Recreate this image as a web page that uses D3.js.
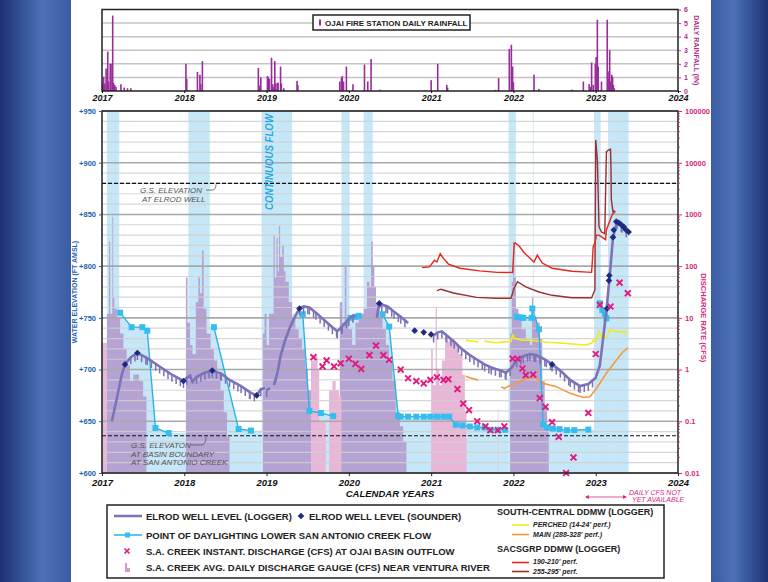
<!DOCTYPE html>
<html>
<head>
<meta charset="utf-8">
<script src="https://cdnjs.cloudflare.com/ajax/libs/d3/7.8.5/d3.min.js"></script>
<style>
  body { margin: 0; background: #fff; }
  svg { display: block; font-family: "Liberation Sans", Arial, sans-serif; }
</style>
</head>
<body>
<div id="chart"></div>
<script>
// ---- data (decimal years) ----
const years = [2017, 2018, 2019, 2020, 2021, 2022, 2023, 2024];
const elevTicks = [600, 650, 700, 750, 800, 850, 900, 950];
const cfsTicks = [0.01, 0.1, 1, 10, 100, 1000, 10000, 100000];
const rainTicks = [0, 1, 2, 3, 4, 5, 6];

// Ojai fire station daily rainfall (in)
const rainfall = [
  [2017.01,0.55],[2017.02,1.05],[2017.035,0.55],[2017.05,1.65],[2017.07,2.9],[2017.08,0.7],[2017.10,2.0],[2017.11,2.0],
  [2017.13,5.55],[2017.14,0.6],[2017.155,0.45],[2017.17,0.3],[2017.23,0.5],[2017.27,0.25],[2017.31,0.2],[2017.35,0.2],
  [2018.02,2.0],[2018.03,0.9],[2018.16,1.4],[2018.19,1.2],[2018.20,0.5],[2018.22,2.2],
  [2018.90,1.7],[2018.91,0.4],[2018.93,1.0],[2019.01,1.1],[2019.02,1.0],[2019.035,0.9],[2019.06,2.45],[2019.075,0.5],
  [2019.09,0.3],[2019.10,2.2],[2019.11,0.55],[2019.13,0.6],[2019.14,0.6],[2019.17,1.8],[2019.18,0.55],[2019.21,0.2],
  [2019.37,0.75],[2019.38,0.45],
  [2019.89,0.7],[2019.91,0.95],[2019.92,1.1],[2019.935,0.7],[2019.97,1.8],[2020.05,0.5],[2020.19,1.95],[2020.23,0.7],
  [2020.27,2.35],[2020.38,0.1],
  [2021.0,0.8],[2021.08,2.0],[2021.19,0.45],[2021.20,0.25],
  [2021.78,0.08],[2021.82,0.95],[2021.95,3.1],[2021.975,3.4],[2021.99,1.8],[2022.0,0.65],[2022.25,1.2],[2022.31,0.15],
  [2022.71,0.1],[2022.85,0.7],[2022.92,0.5],[2022.935,0.3],[2022.95,2.1],[2022.97,0.45],[2022.995,2.0],[2023.005,2.5],
  [2023.02,5.25],[2023.03,1.8],[2023.07,0.7],[2023.14,5.25],[2023.15,1.45],[2023.16,0.9],[2023.17,3.0],[2023.18,0.7],
  [2023.195,1.2],[2023.205,1.05],[2023.215,0.45],[2023.225,0.2]
];

// continuous flow periods
const flowBands = [
  [2017.06,2017.21],[2018.05,2018.31],[2018.94,2019.31],[2019.91,2020.01],[2020.18,2020.29],
  [2021.94,2022.03],[2022.235,2022.245],[2022.98,2023.06],[2023.15,2023.40]
];

// point of daylighting lower San Antonio Creek flow (ft), null = break
const daylighting = [
  [2017.22,755],[2017.36,741],[2017.49,741],[2017.55,737.5],[2017.65,643.5],[2017.81,638.6], null,
  [2018.36,741],[2018.66,642.5],[2018.81,641], null,
  [2019.44,753.5],[2019.52,660],[2019.66,658],[2019.81,655], null,
  [2020.02,750],[2020.08,751],[2020.12,752], null,
  [2020.41,753.5],[2020.49,741.5],[2020.60,655],[2020.63,654.5],[2020.72,654.5],[2020.82,654.5],[2020.91,654.5],
  [2020.99,654.5],[2021.07,654.5],[2021.15,654.5],[2021.22,654.5],[2021.30,646.7],[2021.38,646],[2021.47,645],
  [2021.56,644],[2021.65,644],[2021.72,641.8],[2021.81,641.8],[2021.90,641.8], null,
  [2022.04,751],[2022.08,750.5],[2022.12,750],[2022.22,750],[2022.23,759],[2022.31,739],[2022.36,647],[2022.41,644],
  [2022.48,643],[2022.56,642.4],[2022.65,641.4],[2022.74,641.4],[2022.91,642], null,
  [2023.05,764],[2023.08,757.6],[2023.11,754],[2023.13,749.6]
];

// Elrod well level, logger (ft)
const elrodLogger = [
  [2017.12,650],[2017.18,672],[2017.24,695],[2017.28,705],[2017.35,712],[2017.43,716],[2017.55,711],[2017.70,703],
  [2017.85,695],[2017.99,689],[2018.03,692],[2018.07,694],[2018.10,688],[2018.15,693],[2018.25,697],[2018.34,699],
  [2018.45,696],[2018.55,690],[2018.69,684],[2018.80,678],[2018.88,675],[2018.93,681],[2018.98,682], null,
  [2019.00,680],[2019.04,682], null,
  [2019.09,685],[2019.13,696],[2019.17,713],[2019.22,727],[2019.28,740],[2019.35,752],[2019.40,759],[2019.45,761],
  [2019.52,760],[2019.60,755],[2019.70,748],[2019.80,741],[2019.86,737],[2019.92,742],[2020.00,749],[2020.05,752],
  [2020.08,751], null,
  [2020.34,750],[2020.36,760],[2020.40,763],[2020.47,761],[2020.55,756],[2020.63,751],[2020.72,745], null,
  [2021.03,733],[2021.08,736],[2021.13,737],[2021.19,733],[2021.28,727],[2021.37,720],[2021.47,714],[2021.57,709],
  [2021.65,705],[2021.73,702],[2021.85,699],[2021.91,697],[2021.98,702],[2022.04,709],[2022.12,713],[2022.20,715],
  [2022.27,714],[2022.33,712],[2022.40,709],[2022.47,705],[2022.57,699],[2022.69,690],[2022.81,684],[2022.91,686],
  [2023.00,692],[2023.05,704],[2023.10,737],[2023.13,757],[2023.17,790],[2023.21,828],[2023.26,843],[2023.32,839],
  [2023.39,833]
];

// Elrod well level, sounder (ft)
const elrodSounder = [
  [2017.28,705],[2017.43,716],[2017.99,689],[2018.34,699],[2018.88,675],[2019.40,759],[2020.37,764],
  [2020.80,737.6],[2020.91,736],[2021.00,734],[2022.47,705],[2023.14,759],[2023.16,786],[2023.165,791],
  [2023.21,828],[2023.22,835],[2023.25,843],[2023.28,842],[2023.31,840],[2023.34,838],[2023.37,835],[2023.40,833]
];

// S.A. Creek instantaneous discharge at Ojai basin outflow (cfs)
const instDischarge = [
  [2019.57,1.74],[2019.68,1.15],[2019.73,1.5],[2019.82,1.15],[2019.90,1.32],[2020.00,1.62],[2020.08,1.29],[2020.15,1.03],
  [2020.25,1.9],[2020.33,2.9],[2020.42,1.9],[2020.49,1.55],[2020.63,1.0],[2020.72,0.68],[2020.82,0.6],[2020.91,0.54],
  [2020.99,0.63],[2021.07,0.71],[2021.15,0.63],[2021.21,0.65],[2021.32,0.42],[2021.39,0.22],[2021.46,0.165],[2021.56,0.1],
  [2021.66,0.08],[2021.72,0.067],[2021.81,0.067],[2021.89,0.08],[2021.99,1.62],[2022.05,1.62],[2022.11,1.05],[2022.15,0.78],
  [2022.24,0.8],[2022.32,0.28],[2022.39,0.19],[2022.47,0.096],[2022.55,0.05],[2022.64,0.01],[2022.73,0.02],[2022.91,0.145],
  [2023.00,2.0],[2023.05,17.8],[2023.18,16.6],[2023.29,48],[2023.39,30]
];

// S.A. Creek avg daily discharge gauge near Ventura River (cfs), step values; 0 = no flow
const gaugeApproved = [
  [2017.06,12],[2017.085,300],[2017.10,12],[2017.115,12],[2017.125,900],[2017.135,25],[2017.15,15],[2017.18,10],
  [2017.22,5],[2017.26,2.5],[2017.30,1.2],[2017.34,0.6],[2017.38,0.8],[2017.45,0.6],[2017.50,0.3],[2017.54,0],
  [2018.02,60],[2018.04,8],[2018.07,3],[2018.10,2],[2018.14,20],[2018.17,60],[2018.19,30],[2018.215,200],[2018.235,15],
  [2018.27,5],[2018.32,2.5],[2018.36,1.5],[2018.40,0.8],[2018.44,0.4],[2018.48,0.15],[2018.52,0.05],[2018.55,0],
  [2018.955,5],[2018.975,12],[2019.00,3],[2019.03,12],[2019.085,400],[2019.10,60],[2019.12,350],[2019.135,80],
  [2019.15,600],[2019.165,150],[2019.19,250],[2019.21,80],[2019.23,50],[2019.27,20],[2019.31,10],[2019.35,6],
  [2019.39,4],[2019.43,2.5],[2019.47,1],[2019.50,0.4],[2019.54,0],
  [2019.89,20],[2019.92,8],[2019.95,100],[2019.97,10],[2020.00,6],[2020.04,3],[2020.08,8],[2020.12,12],[2020.18,15],
  [2020.22,50],[2020.25,40],[2020.27,300],[2020.29,100],[2020.31,40],[2020.33,20],[2020.37,10],[2020.41,6],[2020.45,3],
  [2020.49,1.5],[2020.53,0.6],[2020.57,0.15],[2020.62,0.08],[2020.66,0.04],[2020.70,0],
  [2021.96,5],[2021.98,50],[2021.995,300],[2022.01,60],[2022.03,15],[2022.06,10],[2022.10,6],[2022.15,4],[2022.20,3],
  [2022.225,25],[2022.24,10],[2022.28,8],[2022.32,4],[2022.35,0.6],[2022.38,0.2],[2022.41,0.08],[2022.43,0]
];
const gaugeProvisional = [
  [2016.995,3.3],[2017.06,0],
  [2019.54,1.5],[2019.58,1.8],[2019.62,1.0],[2019.64,0.1],[2019.72,0],[2019.76,0.4],[2019.80,0.6],[2019.84,0.4],
  [2019.88,0.3],[2019.91,0],
  [2021.00,2.5],[2021.02,0.5],[2021.055,16],[2021.07,1],[2021.10,0.5],[2021.13,1.5],[2021.17,3.5],[2021.22,4],
  [2021.28,3],[2021.33,2],[2021.38,0.8],[2021.41,0.15],[2021.43,0],
  [2021.81,0.17],[2021.816,0]
];

// South-central DDMW loggers (ft)
const perched = [
  [2021.42,728.4],[2021.57,726.8], null,
  [2021.65,727.5],[2021.79,726],[2021.89,726.8],[2021.97,727],[2021.99,733.3],[2022.02,730],[2022.10,728.4],
  [2022.20,728.6],[2022.40,726.4],[2022.60,725.4],[2022.87,723.8],[2022.95,725.4],[2022.97,728],[2023.00,727],
  [2023.04,736.7],[2023.07,731],[2023.13,731],[2023.17,738.3],[2023.25,736.7],[2023.39,735.7]
];
const mainAq = [
  [2021.42,693.5],[2021.47,692],[2021.57,690], null,
  [2021.85,683.3],[2021.89,681.7],[2021.94,684],[2022.02,686],[2022.14,690.8],[2022.26,692.5],[2022.36,686.7],
  [2022.52,683.5],[2022.69,677],[2022.85,673],[2022.93,673.8],[2023.01,682],[2023.13,696.4],[2023.25,709],
  [2023.33,717],[2023.39,721]
];
// SACSGRP DDMW loggers (ft)
const sacs190 = [
  [2020.89,798.6],[2020.98,799.3],[2021.04,805.7],[2021.07,804],[2021.11,812],[2021.15,807.5],[2021.21,802],
  [2021.35,798],[2021.59,795.4],[2021.80,794],[2021.99,793.9],[2022.01,822],[2022.02,822.5],[2022.07,819.5],
  [2022.13,813],[2022.25,804],[2022.29,810.7],[2022.35,803],[2022.47,798],[2022.71,795],[2022.95,794],[2022.97,819],
  [2022.99,822.5],[2023.01,830],[2023.04,830],[2023.12,825.6],[2023.13,835],[2023.20,849.8],[2023.24,853]
];
const sacs255 = [
  [2021.07,776.4],[2021.12,777.7],[2021.27,774],[2021.55,769.8],[2021.79,769],[2021.97,769],[2022.01,779],
  [2022.05,785],[2022.15,780],[2022.31,775],[2022.47,771.8],[2022.71,769.4],[2022.95,769.4],[2022.99,777],
  [2023.00,922],[2023.02,902.6],[2023.04,838],[2023.07,833],[2023.11,831.4],[2023.13,910.6],[2023.15,912],
  [2023.18,913],[2023.185,896],[2023.19,864],[2023.21,852.6],[2023.23,853.6]
];

const gsElrod = 880, gsBasin = 636;

// ---- layout ----
const W = 768, H = 582;
const left = 102, right = 678;
const svg = d3.select("#chart").append("svg").attr("width", W).attr("height", H);

// side frame gradients
const defs = svg.append("defs");
const gl = defs.append("linearGradient").attr("id", "gl");
gl.append("stop").attr("offset", "0%").attr("stop-color", "#1d3272");
gl.append("stop").attr("offset", "60%").attr("stop-color", "#4c70b6");
gl.append("stop").attr("offset", "100%").attr("stop-color", "#3a5ca3");
const gr = defs.append("linearGradient").attr("id", "gr");
gr.append("stop").attr("offset", "0%").attr("stop-color", "#3a5ca3");
gr.append("stop").attr("offset", "40%").attr("stop-color", "#4c70b6");
gr.append("stop").attr("offset", "100%").attr("stop-color", "#1d3272");
svg.append("rect").attr("x", 0).attr("y", 0).attr("width", 71).attr("height", H).attr("fill", "url(#gl)");
svg.append("rect").attr("x", 711).attr("y", 0).attr("width", W - 711).attr("height", H).attr("fill", "url(#gr)");

const x = d3.scaleLinear().domain([2017, 2024]).range([left, right]);

// ================= rainfall panel =================
const rTop = 9.5, rBot = 91;
const yRain = d3.scaleLinear().domain([0, 6]).range([rBot, rTop]);
const rainG = svg.append("g");

rainG.selectAll(".rg").data(rainTicks.slice(1, -1)).join("line")
  .attr("x1", left).attr("x2", right)
  .attr("y1", d => yRain(d)).attr("y2", d => yRain(d))
  .attr("stroke", "#c4c4c4").attr("stroke-width", 1.5);

rainG.selectAll(".rain").data(rainfall).join("rect")
  .attr("x", d => x(d[0]) - 0.8).attr("width", 1.6)
  .attr("y", d => yRain(d[1])).attr("height", d => yRain(0) - yRain(d[1]))
  .attr("fill", "#9a2c9c");

rainG.append("rect").attr("x", left).attr("y", rTop).attr("width", right - left).attr("height", rBot - rTop)
  .attr("fill", "none").attr("stroke", "#222").attr("stroke-width", 1.5);

const rAxis = rainG.append("g").attr("transform", `translate(${right},0)`)
  .call(d3.axisRight(yRain).tickValues(rainTicks).tickSize(3).tickFormat(d3.format("d")));
rAxis.select(".domain").remove();
rAxis.selectAll("line").attr("stroke", "#b0308a");
rAxis.selectAll("text").attr("fill", "#b0308a").attr("font-size", 7).attr("font-weight", "bold");
rainG.append("text").attr("transform", `translate(694,${(rTop + rBot) / 2}) rotate(90)`)
  .attr("text-anchor", "middle").attr("font-size", 7).attr("font-weight", "bold").attr("fill", "#b0308a")
  .text("DAILY RAINFALL (IN)");

const rx = rainG.append("g").attr("transform", `translate(0,${rBot})`)
  .call(d3.axisBottom(x).tickValues(years).tickSize(2).tickFormat(d3.format("d")));
rx.select(".domain").remove();
rx.selectAll("text").attr("font-size", 9).attr("font-weight", "bold").attr("font-style", "italic").attr("fill", "#111").attr("dy", "0.6em");

// rainfall legend
rainG.append("rect").attr("x", 313).attr("y", 15).attr("width", 157).attr("height", 15)
  .attr("fill", "#fff").attr("stroke", "#222").attr("stroke-width", 1.5);
rainG.append("rect").attr("x", 319).attr("y", 19.5).attr("width", 2).attr("height", 6).attr("fill", "#9a2c9c");
rainG.append("text").attr("x", 325).attr("y", 25.5).attr("font-size", 8).attr("font-weight", "bold").attr("fill", "#222")
  .text("OJAI FIRE STATION DAILY RAINFALL");

// ================= main panel =================
const mTop = 111, mBot = 473;
const yFt = d3.scaleLinear().domain([600, 950]).range([mBot, mTop]);
const yCfs = d3.scaleLog().domain([0.01, 100000]).range([mBot, mTop]);
const g = svg.append("g");
const blue = "#c6e7f7";

// continuous flow bands
g.selectAll(".band").data(flowBands).join("rect")
  .attr("x", d => x(d[0])).attr("width", d => x(d[1]) - x(d[0]))
  .attr("y", mTop).attr("height", mBot - mTop).attr("fill", blue);

// flow fill under daylighting point, carried to adjacent bands
const dayGroups = [];
let cur = [];
daylighting.forEach(p => { if (p) cur.push(p); else { dayGroups.push(cur); cur = []; } });
if (cur.length) dayGroups.push(cur);
const bandStarts = flowBands.map(b => b[0]), bandEnds = flowBands.map(b => b[1]);
const fillArea = d3.area().x(d => x(d[0])).y0(mBot).y1(d => yFt(d[1]));
dayGroups.forEach(grp => {
  const first = grp[0], last = grp[grp.length - 1];
  const prevEnd = d3.max(bandEnds.filter(e => e < first[0]));
  const nextStart = d3.min(bandStarts.filter(s => s > last[0]));
  const pts = [];
  if (prevEnd !== undefined && first[0] - prevEnd < 0.2) pts.push([prevEnd, first[1]]);
  pts.push(...grp);
  if (nextStart !== undefined) pts.push([nextStart, last[1]]);
  g.append("path").datum(pts).attr("d", fillArea).attr("fill", blue);
});

// avg daily discharge gauge (step areas)
function stepSegments(arr) {
  const segs = []; let s = [];
  arr.forEach((p, i) => {
    if (p[1] > 0) {
      const nx = i + 1 < arr.length ? arr[i + 1][0] : p[0] + 0.01;
      s.push([p[0], p[1]], [nx, p[1]]);
    } else if (s.length) { segs.push(s); s = []; }
  });
  if (s.length) segs.push(s);
  return segs;
}
const gaugeArea = d3.area().x(d => x(d[0])).y0(mBot).y1(d => yCfs(Math.max(d[1], 0.01)));
g.selectAll(".ga").data(stepSegments(gaugeApproved)).join("path")
  .attr("d", gaugeArea).attr("fill", "#b5a3d3");
g.selectAll(".gp").data(stepSegments(gaugeProvisional)).join("path")
  .attr("d", gaugeArea).attr("fill", "#e8b7d8");

// grid
const minor = d3.range(600, 951, 10).filter(v => v % 50 !== 0);
g.selectAll(".mg").data(minor).join("line")
  .attr("x1", left).attr("x2", right).attr("y1", d => yFt(d)).attr("y2", d => yFt(d))
  .attr("stroke", "#cfcfcf").attr("stroke-opacity", 0.85).attr("stroke-width", 1.2);
g.selectAll(".Mg").data(elevTicks).join("line")
  .attr("x1", left).attr("x2", right).attr("y1", d => yFt(d)).attr("y2", d => yFt(d))
  .attr("stroke", "#a9a9a9").attr("stroke-width", 1.6);

// ground surface lines
[gsElrod, gsBasin].forEach(v => {
  g.append("line").attr("x1", left).attr("x2", right).attr("y1", yFt(v)).attr("y2", yFt(v))
    .attr("stroke", "#111").attr("stroke-width", 1.1).attr("stroke-dasharray", "4,2");
});

// CONTINUOUS FLOW label
g.append("text").attr("transform", `translate(273,210) rotate(-90)`)
  .attr("font-size", 11).attr("font-weight", "bold").attr("font-style", "italic").attr("fill", "#2aa8de")
  .attr("textLength", 96).attr("lengthAdjust", "spacingAndGlyphs")
  .text("CONTINUOUS FLOW");

// ground surface annotations
const ann = g.append("g").attr("fill", "#555").attr("font-size", 8).attr("font-style", "italic");
ann.append("text").attr("x", 140).attr("y", 193).text("G.S. ELEVATION");
ann.append("text").attr("x", 142).attr("y", 201.5).text("AT ELROD WELL");
g.append("path").attr("d", `M206,190 L212,190 Q216,190 216,${yFt(gsElrod) + 1}`)
  .attr("fill", "none").attr("stroke", "#555").attr("stroke-width", 0.8);
ann.append("text").attr("x", 131).attr("y", 448).text("G.S. ELEVATON");
ann.append("text").attr("x", 131).attr("y", 456.5).text("AT BASIN BOUNDARY");
ann.append("text").attr("x", 131).attr("y", 465).text("AT SAN ANTONIO CREEK");
g.append("path").attr("d", `M191,445 L201,445 Q206,445 206,${yFt(gsBasin) + 1}`)
  .attr("fill", "none").attr("stroke", "#555").attr("stroke-width", 0.8);

// logger lines
const lineFt = d3.line().defined(d => d !== null).x(d => x(d[0])).y(d => yFt(d[1]));
g.append("path").datum(mainAq).attr("d", lineFt).attr("fill", "none").attr("stroke", "#f39a3c").attr("stroke-width", 1.6);
g.append("path").datum(perched).attr("d", lineFt).attr("fill", "none").attr("stroke", "#f2ea1a").attr("stroke-width", 1.6);
g.append("path").datum(sacs255).attr("d", lineFt).attr("fill", "none").attr("stroke", "#9c2f2f").attr("stroke-width", 1.4);
g.append("path").datum(sacs190).attr("d", lineFt).attr("fill", "none").attr("stroke", "#e5281e").attr("stroke-width", 1.4);

// daylighting line + squares
g.append("path").datum(daylighting).attr("d", lineFt).attr("fill", "none").attr("stroke", "#29b3e6").attr("stroke-width", 1.4);
g.selectAll(".sq").data(daylighting.filter(d => d)).join("rect")
  .attr("x", d => x(d[0]) - 3).attr("y", d => yFt(d[1]) - 3).attr("width", 6).attr("height", 6)
  .attr("fill", "#35bdf0");

// Elrod logger with drawdown comb
const loggerColor = "#7b73b8";
const combs = [];
for (let i = 1; i < elrodLogger.length; i++) {
  const a = elrodLogger[i - 1], b = elrodLogger[i];
  if (!a || !b) continue;
  const x0 = x(a[0]), y0 = yFt(a[1]), x1 = x(b[0]), y1 = yFt(b[1]);
  if (Math.abs((y1 - y0) / (x1 - x0)) > 1.1) continue;
  for (let px = x0; px < x1; px += 4.2) combs.push([px, y0 + (y1 - y0) * (px - x0) / (x1 - x0)]);
}
g.selectAll(".comb").data(combs).join("line")
  .attr("x1", d => d[0]).attr("x2", d => d[0]).attr("y1", d => d[1]).attr("y2", d => d[1] + 7)
  .attr("stroke", loggerColor).attr("stroke-width", 1.5);
g.append("path").datum(elrodLogger).attr("d", lineFt).attr("fill", "none")
  .attr("stroke", loggerColor).attr("stroke-width", 2.6);

// sounder diamonds (rotated squares)
const diamond = d3.symbol().type(d3.symbolSquare).size(22);
g.selectAll(".snd").data(elrodSounder).join("path")
  .attr("d", diamond).attr("transform", d => `translate(${x(d[0])},${yFt(d[1])}) rotate(45)`).attr("fill", "#1f2a82");

// instantaneous discharge crosses
const cross = d3.symbol().type(d3.symbolX).size(24);
g.selectAll(".ix").data(instDischarge).join("path")
  .attr("d", cross).attr("transform", d => `translate(${x(d[0])},${yCfs(d[1])})`)
  .attr("fill", "none").attr("stroke", "#e2197f").attr("stroke-width", 1.9);

// frame
g.append("rect").attr("x", left).attr("y", mTop).attr("width", right - left).attr("height", mBot - mTop)
  .attr("fill", "none").attr("stroke", "#222").attr("stroke-width", 1.5);

// left axis
const la = g.append("g").attr("transform", `translate(${left},0)`)
  .call(d3.axisLeft(yFt).tickValues(elevTicks).tickSize(3).tickFormat(d => "+" + d));
la.select(".domain").remove();
la.selectAll("line").attr("stroke", "#1d5fae");
la.selectAll("text").attr("fill", "#1d5fae").attr("font-size", 7.5).attr("font-weight", "bold");
g.append("text").attr("transform", `translate(77,${yFt(775)}) rotate(-90)`)
  .attr("text-anchor", "middle").attr("font-size", 7).attr("font-weight", "bold").attr("fill", "#1d5fae")
  .text("WATER ELEVATION (FT AMSL)");

// right log axis
const ra = g.append("g").attr("transform", `translate(${right},0)`)
  .call(d3.axisRight(yCfs).tickValues(cfsTicks).tickSize(4).tickFormat(d => d < 1 ? d3.format(".2~f")(d) : d3.format("d")(d)));
ra.select(".domain").remove();
ra.selectAll("line").attr("stroke", "#d6287f");
ra.selectAll("text").attr("fill", "#d6287f").attr("font-size", 7.5).attr("font-weight", "bold");
const minorLog = [];
cfsTicks.slice(0, -1).forEach(t => d3.range(2, 10).forEach(k => minorLog.push(t * k)));
g.selectAll(".mlt").data(minorLog).join("line")
  .attr("x1", right).attr("x2", right + 2).attr("y1", d => yCfs(d)).attr("y2", d => yCfs(d))
  .attr("stroke", "#d6287f").attr("stroke-width", 0.8);
g.append("text").attr("transform", `translate(701,${yCfs(10)}) rotate(90)`)
  .attr("text-anchor", "middle").attr("font-size", 7.5).attr("font-weight", "bold").attr("fill", "#d6287f")
  .text("DISCHARGE RATE (CFS)");

// bottom axis
const bx = g.append("g").attr("transform", `translate(0,${mBot})`)
  .call(d3.axisBottom(x).tickValues(years).tickSize(3).tickFormat(d3.format("d")));
bx.select(".domain").remove();
bx.selectAll("line").attr("stroke", "#222");
bx.selectAll("text").attr("font-size", 9.5).attr("font-weight", "bold").attr("font-style", "italic").attr("fill", "#111");
g.append("text").attr("x", 390).attr("y", 497).attr("text-anchor", "middle")
  .attr("font-size", 9.5).attr("font-weight", "bold").attr("font-style", "italic").attr("fill", "#111")
  .text("CALENDAR YEARS");

// daily cfs note
g.append("line").attr("x1", 586).attr("x2", 626).attr("y1", 497).attr("y2", 497)
  .attr("stroke", "#d6287f").attr("stroke-width", 0.8);
g.append("path").attr("d", "M585,497 l4,-2 v4 z M627,497 l-4,-2 v4 z").attr("fill", "#d6287f");
g.append("text").attr("x", 629).attr("y", 495).attr("font-size", 7).attr("font-style", "italic").attr("fill", "#d6287f").text("DAILY CFS NOT");
g.append("text").attr("x", 632).attr("y", 502).attr("font-size", 7).attr("font-style", "italic").attr("fill", "#d6287f").text("YET AVAILABLE");

// ================= legend =================
const lg = svg.append("g").attr("font-weight", "bold").attr("fill", "#222");
lg.append("rect").attr("x", 107).attr("y", 505).attr("width", 557).attr("height", 73)
  .attr("fill", "#fff").attr("stroke", "#222").attr("stroke-width", 1.5);
const fs = 9.5;
// row 1
lg.append("line").attr("x1", 114).attr("x2", 142).attr("y1", 516).attr("y2", 516).attr("stroke", loggerColor).attr("stroke-width", 2.5);
lg.append("text").attr("x", 146).attr("y", 519.5).attr("font-size", fs).text("ELROD WELL LEVEL (LOGGER)");
lg.append("path").attr("d", diamond).attr("transform", "translate(301,516) rotate(45)").attr("fill", "#1f2a82");
lg.append("text").attr("x", 309).attr("y", 519.5).attr("font-size", fs).text("ELROD WELL LEVEL (SOUNDER)");
// row 2
lg.append("line").attr("x1", 114).attr("x2", 142).attr("y1", 535).attr("y2", 535).attr("stroke", "#29b3e6").attr("stroke-width", 1.5);
lg.append("rect").attr("x", 125).attr("y", 532.5).attr("width", 5).attr("height", 5).attr("fill", "#35bdf0");
lg.append("text").attr("x", 146).attr("y", 538.5).attr("font-size", fs).text("POINT OF DAYLIGHTING LOWER SAN ANTONIO CREEK FLOW");
// row 3
lg.append("path").attr("d", d3.symbol().type(d3.symbolX).size(18)).attr("transform", "translate(127,551)")
  .attr("fill", "none").attr("stroke", "#e2197f").attr("stroke-width", 1.6);
lg.append("text").attr("x", 146).attr("y", 554.5).attr("font-size", fs).text("S.A. CREEK INSTANT. DISCHARGE (CFS) AT OJAI BASIN OUTFLOW");
// row 4
lg.append("path").attr("d", "M125,572 V563 h2 v5 h3 v4 z").attr("fill", "#d69ac6");
lg.append("text").attr("x", 146).attr("y", 571).attr("font-size", fs).text("S.A. CREEK AVG. DAILY DISCHARGE GAUGE (CFS) NEAR VENTURA RIVER");
// right column
lg.append("text").attr("x", 497).attr("y", 515).attr("font-size", 9).text("SOUTH-CENTRAL DDMW (LOGGER)");
lg.append("line").attr("x1", 512).attr("x2", 529).attr("y1", 525).attr("y2", 525).attr("stroke", "#f2ea1a").attr("stroke-width", 1.6);
lg.append("text").attr("x", 533).attr("y", 527).attr("font-size", 7).attr("font-style", "italic").text("PERCHED (14-24' perf.)");
lg.append("line").attr("x1", 512).attr("x2", 529).attr("y1", 534.5).attr("y2", 534.5).attr("stroke", "#f39a3c").attr("stroke-width", 1.6);
lg.append("text").attr("x", 533).attr("y", 536.5).attr("font-size", 7).attr("font-style", "italic").text("MAIN (288-328' perf.)");
lg.append("text").attr("x", 497).attr("y", 552).attr("font-size", 9).text("SACSGRP DDMW (LOGGER)");
lg.append("line").attr("x1", 512).attr("x2", 529).attr("y1", 562.5).attr("y2", 562.5).attr("stroke", "#e5281e").attr("stroke-width", 1.6);
lg.append("text").attr("x", 533).attr("y", 564).attr("font-size", 7).attr("font-style", "italic").text("190-210' perf.");
lg.append("line").attr("x1", 512).attr("x2", 529).attr("y1", 571.5).attr("y2", 571.5).attr("stroke", "#9c2f2f").attr("stroke-width", 1.6);
lg.append("text").attr("x", 533).attr("y", 573.5).attr("font-size", 7).attr("font-style", "italic").text("255-295' perf.");
</script>
</body>
</html>
